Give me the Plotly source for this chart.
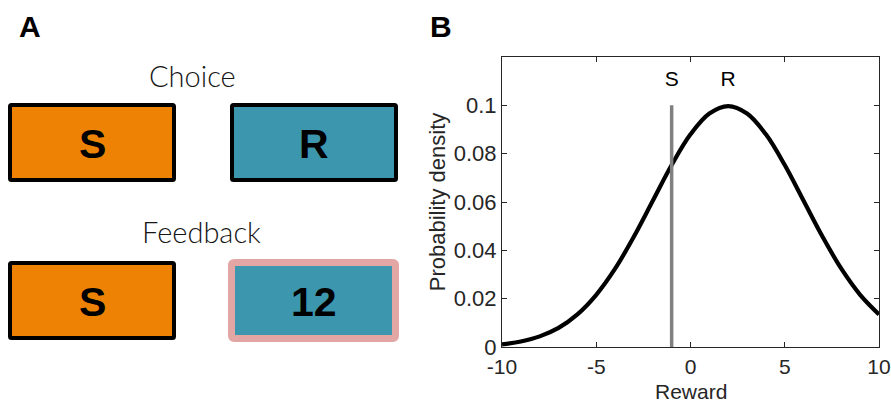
import plotly.graph_objects as go

# ---------------- data ----------------
reward_x = [-10, -9, -8, -7, -6, -5, -4, -3, -2, -1, 0, 1, 2, 3, 4, 5, 6, 7, 8, 9, 10]
density_y = [0.0011, 0.0023, 0.0044, 0.0079, 0.0135, 0.0216, 0.0324, 0.0457, 0.0605,
             0.0753, 0.0880, 0.0966, 0.0997, 0.0966, 0.0880, 0.0753, 0.0605, 0.0457,
             0.0324, 0.0216, 0.0135]
safe_x = [-1, -1]
safe_y = [0, 0.1]
option_labels = ["S", "R"]
option_label_x = [-1, 2]
option_label_y = [0.11, 0.11]
x_ticks = [-10, -5, 0, 5, 10]
x_ticktext = ["-10", "-5", "0", "5", "10"]
y_ticks = [0, 0.02, 0.04, 0.06, 0.08, 0.1]
y_ticktext = ["0", "0.02", "0.04", "0.06", "0.08", "0.1"]
feedback_value = "12"
x_title = "Reward"
y_title = "Probability density"

W, H = 891, 404
ORANGE = "#EE8204"
TEAL = "#3C97AE"
PINK = "#E2A7A5"
AX = "#262626"
FONT = "Liberation Sans, Arial, Helvetica, sans-serif"
THIN = "Lato, DejaVu Sans, sans-serif"


def px(x):
    return x / W


def py(y):
    return 1 - y / H


fig = go.Figure()
fig.add_trace(go.Scatter(x=reward_x, y=density_y, mode="lines",
                         line=dict(color="black", width=4.2, shape="spline"),
                         showlegend=False, hoverinfo="skip"))
fig.add_trace(go.Scatter(x=safe_x, y=safe_y, mode="lines",
                         line=dict(color="#808080", width=3.5),
                         showlegend=False, hoverinfo="skip"))
fig.add_trace(go.Scatter(x=option_label_x, y=option_label_y, mode="text",
                         text=option_labels, textposition="middle center",
                         textfont=dict(family=FONT, size=21, color="black"),
                         showlegend=False, hoverinfo="skip"))

shapes = []
annotations = []


def rounded_path(x0, y0, x1, y1, r):
    X = lambda v: "%.6f" % px(v)
    Y = lambda v: "%.6f" % py(v)
    return ("M %s,%s L %s,%s Q %s,%s %s,%s L %s,%s Q %s,%s %s,%s "
            "L %s,%s Q %s,%s %s,%s L %s,%s Q %s,%s %s,%s Z") % (
        X(x0 + r), Y(y0), X(x1 - r), Y(y0), X(x1), Y(y0), X(x1), Y(y0 + r),
        X(x1), Y(y1 - r), X(x1), Y(y1), X(x1 - r), Y(y1),
        X(x0 + r), Y(y1), X(x0), Y(y1), X(x0), Y(y1 - r),
        X(x0), Y(y0 + r), X(x0), Y(y0), X(x0 + r), Y(y0))


def box(x0, y0, x1, y1, fill, line_color, lw, label, r):
    h = lw / 2
    shapes.append(dict(type="path", xref="paper", yref="paper",
                       path=rounded_path(x0 + h, y0 + h, x1 - h, y1 - h, r),
                       fillcolor=fill, line=dict(color=line_color, width=lw),
                       layer="above"))
    annotations.append(dict(xref="paper", yref="paper",
                            x=px((x0 + x1) / 2), y=py((y0 + y1) / 2 + 1),
                            text="<b>%s</b>" % label, showarrow=False,
                            xanchor="center", yanchor="middle",
                            font=dict(family=FONT, size=41, color="black")))


box(8, 103, 176, 182, ORANGE, "black", 4, "S", 1.5)
box(230, 103, 398, 182, TEAL, "black", 4, "R", 1.5)
box(8, 261, 176, 340, ORANGE, "black", 4, "S", 1.5)
box(228, 259, 399, 342, TEAL, PINK, 7, feedback_value, 3)

annotations += [
    dict(xref="paper", yref="paper", x=px(192), y=py(76), text="Choice",
         showarrow=False, xanchor="center", yanchor="middle",
         font=dict(family=THIN, size=29, color="#151515", weight=300)),
    dict(xref="paper", yref="paper", x=px(201), y=py(232), text="Feedback",
         showarrow=False, xanchor="center", yanchor="middle",
         font=dict(family=THIN, size=29, color="#151515", weight=300)),
    dict(xref="paper", yref="paper", x=px(30), y=py(26), text="<b>A</b>",
         showarrow=False, xanchor="center", yanchor="middle",
         font=dict(family=FONT, size=30, color="black")),
    dict(xref="paper", yref="paper", x=px(441), y=py(26), text="<b>B</b>",
         showarrow=False, xanchor="center", yanchor="middle",
         font=dict(family=FONT, size=30, color="black")),
    # x-axis title placed below the tick labels, resting on the bottom edge
    dict(xref="x domain", yref="paper", x=0.5, y=0, text=x_title,
         showarrow=False, xanchor="center", yanchor="bottom", borderpad=0,
         font=dict(family=FONT, size=21, color=AX)),
]

fig.update_layout(
    width=W, height=H, autosize=False,
    margin=dict(l=0, r=0, t=0, b=0, autoexpand=False),
    paper_bgcolor="white", plot_bgcolor="white",
    shapes=shapes, annotations=annotations,
    xaxis=dict(domain=[px(502), px(879)], range=[-10, 10], automargin=False,
               tickvals=x_ticks, ticktext=x_ticktext, ticks="inside", ticklen=5,
               tickcolor=AX, ticklabelstandoff=1, ticklabeloverflow="allow",
               showline=True, linecolor=AX, linewidth=1, mirror="ticks",
               showgrid=False, zeroline=False,
               tickfont=dict(family=FONT, size=21, color=AX)),
    yaxis=dict(domain=[py(347), py(57)], range=[0, 0.12], automargin=False,
               tickvals=y_ticks, ticktext=y_ticktext, ticks="inside", ticklen=5,
               tickcolor=AX, showline=True, linecolor=AX, linewidth=1,
               mirror="ticks", showgrid=False, zeroline=False,
               ticklabeloverflow="allow",
               tickfont=dict(family=FONT, size=22, color=AX),
               title=dict(text=y_title,
                          font=dict(family=FONT, size=22, color=AX), standoff=2)),
)

fig.write_html("out.html")
